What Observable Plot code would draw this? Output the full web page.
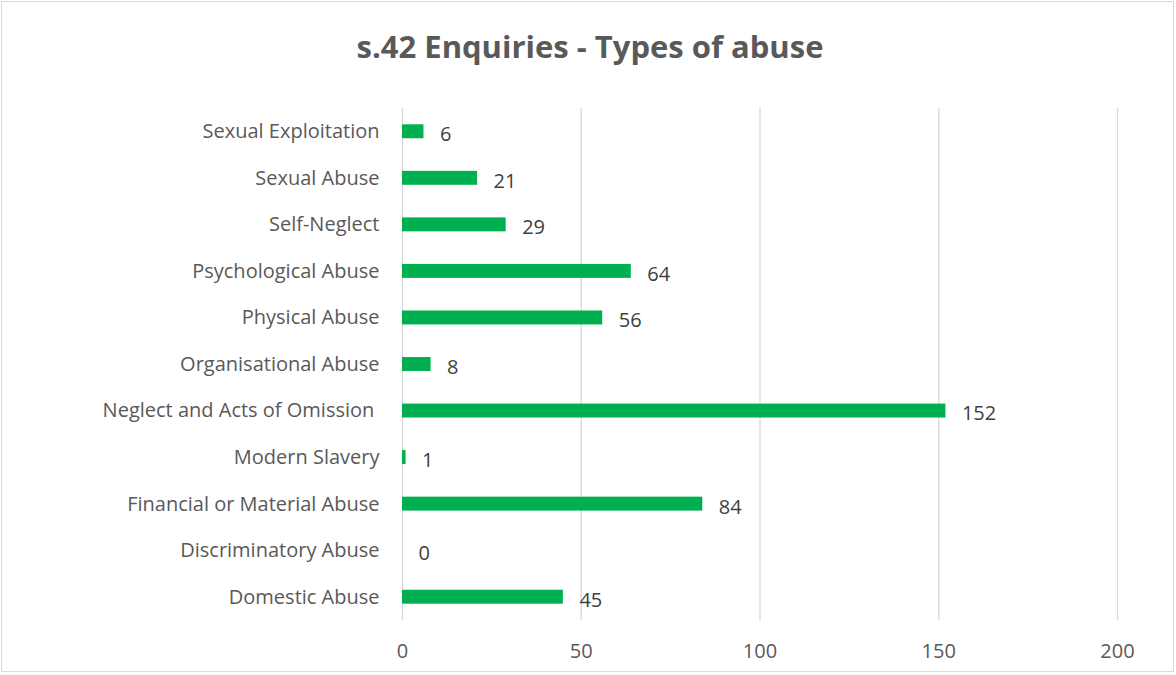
<!DOCTYPE html>
<html>
<head>
<meta charset="utf-8">
<script src="https://cdn.jsdelivr.net/npm/d3@7"></script>
<script src="https://cdn.jsdelivr.net/npm/@observablehq/plot@0.6"></script>
<style>
  html, body { margin: 0; padding: 0; background: #fff; }
  #wrap { position: relative; width: 1176px; height: 675px; overflow: hidden; font-family: "Open Sans", Lato, sans-serif; }
  #frame { position: absolute; left: 1px; top: 1px; width: 1171px; height: 669px; border: 1px solid #d9d9d9; }
  #title { position: absolute; left: 0; top: 25px; width: 1180px; text-align: center; font-size: 31px; font-weight: bold; color: #595959; line-height: 42px; }
  #chart { position: absolute; left: 0; top: 90px; }
</style>
</head>
<body>
<div id="wrap">
  <div id="frame"></div>
  <div id="title">s.42 Enquiries - Types of abuse</div>
  <div id="chart"></div>
</div>
<script>
const categories = [
  "Sexual Exploitation",
  "Sexual Abuse",
  "Self-Neglect",
  "Psychological Abuse",
  "Physical Abuse",
  "Organisational Abuse",
  "Neglect and Acts of Omission ",
  "Modern Slavery",
  "Financial or Material Abuse",
  "Discriminatory Abuse",
  "Domestic Abuse"
];
const values = [6, 21, 29, 64, 56, 8, 152, 1, 84, 0, 45];
const xTicks = [0, 50, 100, 150, 200];

const data = categories.map((c, i) => ({category: c, value: values[i]}));

const chart = Plot.plot({
  width: 1176,
  height: 585,
  marginLeft: 402,
  marginRight: 59,
  marginTop: 18,
  marginBottom: 55,
  style: {fontFamily: "'Open Sans', Lato, sans-serif", fontSize: "20px", background: "transparent"},
  x: {domain: [0, 200], ticks: xTicks},
  y: {domain: categories, paddingInner: 0.7, paddingOuter: 0.35, align: 0.5, round: false},
  marks: [
    Plot.gridX(xTicks, {stroke: "#d9d9d9", strokeOpacity: 1, strokeWidth: 1.3}),
    Plot.barX(data, {x: "value", y: "category", fill: "#00b050"}),
    Plot.text(data, {x: "value", y: "category", text: d => String(d.value), dx: 16, textAnchor: "start", fill: "#404040", fontSize: 20, dy: 3}),
    Plot.axisY({tickSize: 0, tickPadding: 23, label: null, fill: "#595959", fontSize: 20}),
    Plot.axisX(xTicks, {tickSize: 0, tickPadding: 23, label: null, fill: "#595959", fontSize: 20})
  ]
});
document.getElementById("chart").appendChild(chart);
</script>
</body>
</html>
